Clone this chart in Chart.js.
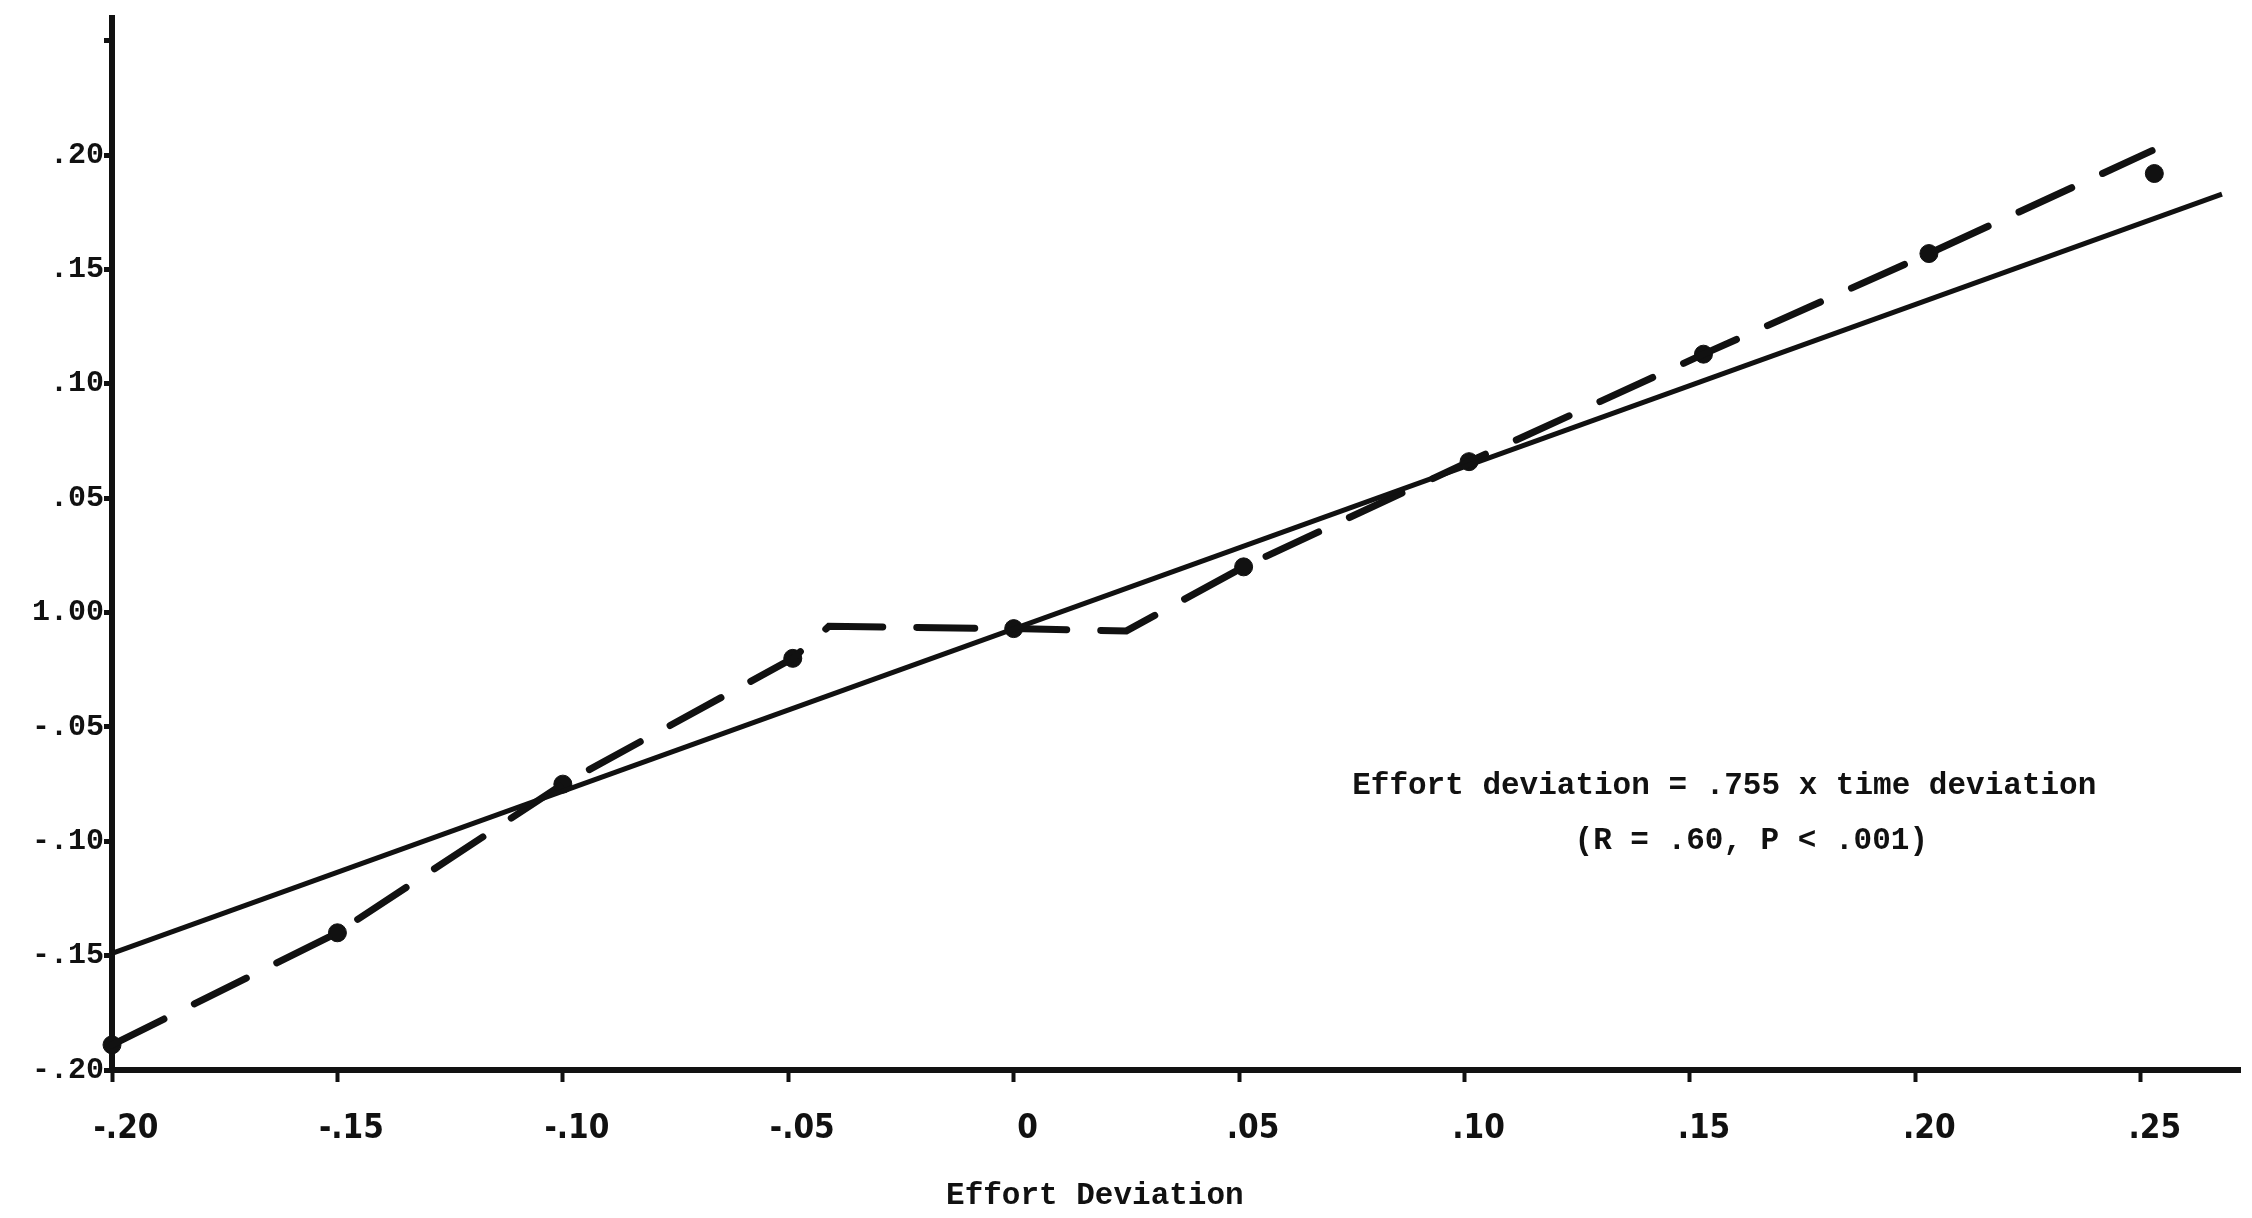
<!DOCTYPE html>
<html>
<head>
<meta charset="utf-8">
<script src="https://cdn.jsdelivr.net/npm/chart.js@4.4.1/dist/chart.umd.min.js"></script>
<style>
  html, body { margin: 0; padding: 0; background: #fff; }
</style>
</head>
<body>
<canvas id="effortChart" width="2252" height="1218"></canvas>
<script>
// Dots (x = time deviation, y = effort deviation)
const pointX = [-0.20, -0.15, -0.10, -0.049, 0, 0.051, 0.101, 0.153, 0.203, 0.253];
const pointY = [-0.189, -0.140, -0.075, -0.020, -0.007, 0.020, 0.066, 0.113, 0.157, 0.192];

// Dashed curve through the dots (with the two bends around zero)
const dashX = [-0.20, -0.15, -0.10, -0.049, -0.041, 0, 0.025, 0.051, 0.101, 0.153, 0.203, 0.2525];
const dashY = [-0.189, -0.140, -0.075, -0.020, -0.006, -0.007, -0.008, 0.020, 0.066, 0.113, 0.157, 0.202];

// Solid regression line
const fitX = [-0.20, 0.268];
const fitY = [-0.149, 0.183];

// Axis ticks
const xTicks = [-0.20, -0.15, -0.10, -0.05, 0, 0.05, 0.10, 0.15, 0.20, 0.25];
const xTickLabels = ['-.20', '-.15', '-.10', '-.05', '0', '.05', '.10', '.15', '.20', '.25'];
const yTicks = [-0.20, -0.15, -0.10, -0.05, 0, 0.05, 0.10, 0.15, 0.20, 0.25];
const yTickLabels = ['-.20', '-.15', '-.10', '-.05', '1.00', '.05', '.10', '.15', '.20', ''];

const ink = '#111';
const toPoints = (xs, ys) => xs.map((x, i) => ({ x: x, y: ys[i] }));

/**
 * Free text: the equation and the axis title
 */
const notesPlugin = {
  id: 'notes',
  afterDraw(chart) {
    const { ctx } = chart;
    const x = chart.scales.x;
    const y = chart.scales.y;
    ctx.save();
    ctx.fillStyle = ink;
    ctx.textAlign = 'center';
    ctx.textBaseline = 'middle';
    ctx.font = 'bold 31px "Liberation Mono", "DejaVu Sans Mono", monospace';
    ctx.fillText('Effort deviation = .755 x time deviation', x.getPixelForValue(0.1576), y.getPixelForValue(-0.076));
    ctx.fillText('(R = .60, P < .001)', x.getPixelForValue(0.1636), y.getPixelForValue(-0.100));
    ctx.fillText('Effort Deviation', x.getPixelForValue(0.018), chart.height - 22);
    ctx.restore();
  }
};

const ctx = document.getElementById('effortChart').getContext('2d');

new Chart(ctx, {
  type: 'line',
  data: {
    datasets: [
      {
        label: 'Regression',
        data: toPoints(fitX, fitY),
        borderColor: ink,
        borderWidth: 5,
        pointRadius: 0,
        tension: 0,
        clip: false
      },
      {
        label: 'Observed',
        data: toPoints(dashX, dashY),
        borderColor: ink,
        borderWidth: 7,
        borderDash: [58, 34],
        borderCapStyle: 'round',
        pointRadius: 0,
        tension: 0,
        clip: false
      },
      {
        type: 'scatter',
        label: 'Points',
        data: toPoints(pointX, pointY),
        backgroundColor: ink,
        borderColor: ink,
        pointRadius: 9,
        clip: false
      }
    ]
  },
  options: {
    responsive: false,
    animation: false,
    devicePixelRatio: 1,
    layout: {
      padding: { top: 12, right: 12, left: 0, bottom: 0 }
    },
    plugins: {
      legend: { display: false },
      tooltip: { enabled: false },
      title: { display: false }
    },
    scales: {
      x: {
        type: 'linear',
        min: -0.20,
        max: 0.272,
        afterBuildTicks: (scale) => {
          scale.ticks = xTicks.map(v => ({ value: v }));
        },
        afterFit: (scale) => {
          scale.height = 148;
        },
        ticks: {
          callback: (value, index) => xTickLabels[index],
          color: ink,
          font: { family: '"Liberation Sans Narrow", "DejaVu Sans Condensed", sans-serif', size: 33, weight: 'bold' },
          labelOffset: 14,
          padding: 28,
          maxRotation: 0,
          autoSkip: false
        },
        grid: {
          drawOnChartArea: false,
          drawTicks: true,
          tickLength: 12,
          tickWidth: 4,
          tickColor: ink
        },
        border: { color: ink, width: 6 }
      },
      y: {
        type: 'linear',
        min: -0.20,
        max: 0.26,
        afterBuildTicks: (scale) => {
          scale.ticks = yTicks.map(v => ({ value: v }));
        },
        afterFit: (scale) => {
          scale.width = 112;
        },
        ticks: {
          callback: (value, index) => yTickLabels[index],
          color: ink,
          font: { family: '"Liberation Mono", "DejaVu Sans Mono", monospace', size: 30, weight: 'bold' },
          padding: 0,
          autoSkip: false
        },
        grid: {
          drawOnChartArea: false,
          drawTicks: true,
          tickLength: 8,
          tickWidth: 5,
          tickColor: ink
        },
        border: { color: ink, width: 6 }
      }
    }
  },
  plugins: [notesPlugin]
});
</script>
</body>
</html>
